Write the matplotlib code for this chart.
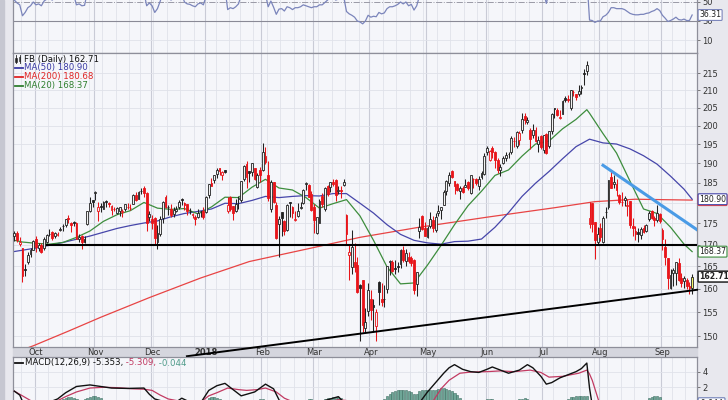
import numpy as np
import pandas as pd
import matplotlib
matplotlib.use('Agg')
import matplotlib.pyplot as plt
from matplotlib.patches import Rectangle
from matplotlib.lines import Line2D
from matplotlib.ticker import NullLocator, NullFormatter

# ---------------- data ----------------
start_date, end_date = '2017-09-20', '2018-09-19'
holidays = ['2017-11-23', '2017-12-25', '2018-01-01', '2018-01-15', '2018-02-19',
            '2018-03-30', '2018-05-28', '2018-07-04', '2018-09-03']
month_labels = ['Oct', 'Nov', 'Dec', '2018', 'Feb', 'Mar', 'Apr', 'May', 'Jun', 'Jul', 'Aug', 'Sep']

opens = [
    172.1, 172.7, 170.2, 169.2, 164.5, 165.9, 167.9, 168.8,
    171.4, 169.3, 169.8, 169.2, 170.6, 172.4, 173.0, 171.9, 172.2, 173.4, 174.5, 174.7, 176.3, 175.1, 175.4, 175.2, 171.4, 171.9, 171.4, 174.9, 178.0, 180.6,
    182.4, 178.0, 179.3, 178.6, 180.5, 180.0, 178.3, 178.4, 177.5, 178.1, 177.7, 178.4, 179.1, 178.8, 179.8, 181.9, 181.0, 183.0, 183.6, 182.4, 176.6,
    176.0, 176.3, 170.5, 172.5, 176.3, 181.5, 179.0, 178.6, 177.3, 178.1, 179.0, 181.0, 179.9, 179.8, 177.9, 177.1, 176.6, 176.5, 178.0, 178.0,
    177.7, 181.9, 184.9, 185.6, 187.2, 188.7, 186.9, 188.4, 178.1, 181.5, 179.3, 178.1, 180.9, 180.8, 186.1, 189.9, 187.9, 187.8, 188.8, 184.0, 188.4,
    188.2, 192.0, 186.9, 178.6, 185.2, 179.5, 174.8, 177.7, 175.6, 173.5, 180.1, 179.0, 175.8, 176.7, 178.7, 179.9, 184.6, 184.5, 182.3,
    179.0, 172.8, 175.2, 181.8, 178.5, 184.3, 183.9, 185.2, 185.6, 182.9, 183.2, 184.5, 177.0, 167.5, 164.8, 166.1, 165.4, 160.8, 161.9, 151.6, 155.2,
    157.8, 156.6, 152.0, 161.6, 157.7, 157.8, 160.0, 166.0, 166.1, 164.6, 165.1, 165.5, 168.7, 166.2, 167.2, 166.8, 166.4, 161.0, 173.2, 176.8, 173.8,
    171.8, 174.3, 175.9, 173.5, 177.4, 178.3, 179.5, 183.0, 184.9, 188.0, 185.5, 184.7, 183.0, 183.6, 184.0, 185.1, 182.5, 186.0, 185.9, 184.3, 186.5, 187.2,
    193.1, 191.0, 194.0, 193.0, 190.9, 188.3, 190.0, 191.4, 192.4, 193.1, 196.0, 194.7, 196.2, 198.9, 202.8, 201.2, 199.0, 197.5, 198.9, 195.2, 197.3,
    193.4, 197.7, 194.7, 198.5, 204.9, 204.5, 202.2, 203.4, 207.8, 207.5, 204.9, 209.6, 208.8, 208.9, 210.6, 215.1, 215.7, 174.9, 179.9, 175.3, 170.7,
    173.9, 170.7, 177.7, 179.0, 186.5, 184.8, 184.6, 182.0, 180.1, 180.7, 179.3, 180.4, 174.5, 173.1, 173.0, 172.2, 173.9, 173.3, 176.0, 178.1, 176.3, 175.9, 177.2,
    173.5, 169.5, 167.0, 160.3, 163.5, 163.5, 165.7, 162.5, 161.7, 162.0, 160.6, 160.1,
]
highs = [
    173.1, 173.2, 171.7, 169.3, 165.5, 168.3, 169.1, 171.0,
    171.9, 170.3, 170.3, 171.7, 172.4, 173.6, 173.2, 172.9, 173.0, 174.2, 174.8, 176.1, 177.0, 175.3, 175.6, 175.4, 172.4, 172.2, 171.9, 178.1, 181.4, 180.8,
    182.9, 180.3, 179.9, 180.5, 180.7, 180.3, 179.4, 179.1, 179.0, 179.0, 178.5, 179.8, 180.0, 179.7, 182.1, 182.6, 183.0, 183.7, 184.3, 182.6, 178.0,
    177.0, 176.6, 174.6, 176.8, 180.4, 182.0, 179.4, 179.6, 178.9, 179.3, 180.6, 181.3, 180.1, 179.8, 178.7, 177.5, 177.0, 178.4, 178.1, 178.9,
    181.6, 184.8, 186.2, 187.0, 188.9, 188.8, 187.9, 188.4, 181.5, 181.8, 179.3, 180.9, 181.8, 185.4, 189.6, 190.7, 188.0, 190.0, 188.9, 187.5, 189.0,
    195.3, 194.2, 190.6, 185.8, 185.3, 180.2, 176.7, 177.8, 175.9, 179.8, 180.1, 179.3, 177.9, 180.0, 180.2, 183.4, 185.3, 184.7, 182.9,
    179.8, 176.3, 181.0, 182.4, 184.0, 184.4, 185.2, 186.1, 186.1, 184.3, 184.2, 186.1, 177.2, 170.2, 173.4, 170.3, 167.1, 161.1, 162.0, 155.9, 161.4,
    159.8, 157.9, 155.6, 161.8, 161.4, 160.8, 165.2, 166.4, 166.4, 166.5, 166.1, 169.0, 169.6, 168.9, 168.4, 167.3, 166.7, 163.7, 176.3, 177.1, 175.3,
    174.3, 177.8, 176.7, 177.5, 179.4, 179.0, 183.2, 185.6, 187.7, 188.3, 185.5, 184.9, 184.2, 184.2, 186.1, 185.4, 186.9, 186.2, 186.3, 186.8, 188.0, 192.7,
    194.6, 193.4, 194.6, 193.2, 191.5, 189.8, 192.0, 193.0, 193.0, 197.3, 197.0, 198.6, 198.5, 203.6, 203.6, 202.4, 199.4, 200.4, 199.8, 197.3, 197.6,
    197.5, 198.1, 198.7, 203.6, 205.0, 204.9, 204.5, 207.1, 208.4, 208.7, 210.2, 210.0, 209.0, 211.5, 211.6, 216.2, 218.6, 180.1, 179.9, 175.3, 174.2,
    175.1, 176.8, 178.9, 185.8, 188.3, 186.9, 186.1, 182.1, 182.6, 181.8, 180.9, 180.5, 176.2, 174.4, 174.0, 174.2, 174.7, 174.8, 178.0, 178.2, 176.7, 179.5, 177.6,
    173.9, 171.2, 167.0, 164.5, 164.6, 166.0, 166.9, 163.5, 162.8, 162.4, 161.5, 163.4,
]
lows = [
    170.9, 170.6, 169.6, 161.6, 162.8, 165.6, 167.2, 168.8,
    168.2, 168.6, 168.0, 168.8, 170.4, 172.1, 171.0, 171.5, 171.9, 173.1, 173.3, 174.2, 175.2, 172.9, 174.3, 171.3, 170.6, 168.9, 170.3, 174.6, 177.8, 178.9,
    180.6, 175.5, 177.7, 178.5, 178.9, 179.1, 177.1, 177.9, 177.3, 176.7, 176.5, 178.1, 178.6, 178.2, 179.6, 180.4, 180.9, 182.3, 181.5, 173.3, 175.6,
    173.6, 170.2, 169.0, 171.9, 175.1, 178.7, 177.1, 176.6, 176.6, 177.7, 178.4, 179.4, 178.2, 177.1, 177.2, 176.2, 174.7, 176.3, 176.5, 176.0,
    177.6, 181.3, 184.1, 184.9, 186.3, 187.1, 185.6, 187.4, 177.4, 178.0, 175.8, 177.7, 178.6, 180.2, 185.5, 183.8, 185.2, 186.8, 185.6, 183.7, 185.3,
    187.9, 189.9, 180.5, 177.8, 180.0, 171.2, 167.2, 171.9, 172.2, 173.3, 176.6, 176.4, 175.5, 176.6, 178.4, 179.6, 183.2, 181.4, 178.1,
    172.7, 172.5, 175.1, 178.9, 178.1, 181.7, 182.7, 184.2, 180.4, 182.2, 181.2, 184.2, 170.1, 161.9, 163.3, 163.7, 159.0, 149.0, 150.8, 150.8, 154.1,
    153.3, 150.8, 149.0, 156.5, 156.2, 156.0, 159.0, 163.0, 163.7, 163.3, 163.7, 164.7, 166.1, 165.2, 165.7, 165.0, 158.9, 158.5, 171.6, 173.5, 171.9,
    171.5, 173.8, 173.0, 173.0, 176.8, 176.0, 179.5, 182.0, 184.2, 186.2, 182.3, 183.0, 181.0, 182.5, 183.9, 183.1, 182.2, 183.8, 184.4, 183.1, 185.9, 187.0,
    192.3, 190.5, 191.5, 188.7, 187.5, 186.8, 189.8, 190.7, 191.5, 192.4, 194.2, 194.0, 194.8, 198.2, 200.5, 200.6, 193.9, 196.7, 195.6, 192.9, 193.8,
    192.8, 192.5, 194.0, 197.7, 202.3, 202.7, 201.8, 203.2, 206.7, 206.6, 204.5, 208.3, 207.1, 208.5, 208.8, 211.6, 214.3, 173.8, 173.0, 166.6, 170.0,
    170.9, 170.3, 176.2, 178.4, 183.7, 183.8, 181.7, 179.6, 179.2, 179.2, 176.8, 174.0, 172.0, 171.1, 170.7, 171.4, 172.8, 172.9, 175.7, 176.1, 174.5, 175.4, 175.0,
    168.8, 165.3, 160.0, 160.0, 160.6, 160.9, 161.8, 160.4, 160.3, 160.0, 158.9, 158.9,
]
closes = [
    172.8, 171.1, 170.5, 162.9, 164.2, 167.7, 168.7, 170.9,
    169.5, 169.9, 168.4, 171.2, 172.2, 172.5, 171.6, 172.7, 172.6, 173.7, 174.5, 176.1, 176.0, 174.6, 175.0, 171.3, 171.8, 170.6, 170.6, 177.9, 179.9, 180.1,
    182.7, 178.9, 178.9, 180.2, 180.3, 179.6, 179.3, 178.5, 178.8, 179.0, 178.0, 179.6, 179.0, 178.7, 181.9, 180.8, 182.8, 183.0, 182.4, 175.1, 177.2,
    175.1, 171.5, 172.8, 176.1, 180.1, 179.0, 179.0, 177.0, 178.3, 178.4, 180.2, 180.8, 179.5, 177.9, 177.9, 177.2, 176.0, 177.6, 177.9, 176.5,
    181.4, 184.7, 184.3, 186.9, 188.3, 187.9, 187.8, 187.8, 179.4, 178.4, 177.6, 179.8, 181.3, 185.4, 189.4, 186.6, 187.5, 190.0, 186.0, 187.1, 186.9,
    193.1, 190.3, 181.3, 185.3, 180.2, 171.6, 176.1, 176.4, 173.2, 179.5, 180.0, 177.4, 176.0, 177.9, 179.0, 183.3, 184.9, 181.5, 178.3,
    175.9, 176.6, 180.4, 179.8, 183.7, 182.3, 185.2, 184.8, 181.9, 183.2, 182.9, 185.1, 172.6, 168.2, 169.4, 164.9, 159.4, 160.1, 152.2, 153.0, 159.8,
    155.4, 156.1, 155.1, 159.3, 157.2, 157.9, 165.0, 166.3, 163.9, 164.5, 164.8, 168.7, 166.4, 168.1, 166.3, 165.8, 159.7, 163.7, 174.2, 173.6, 172.0,
    173.9, 176.1, 174.0, 176.6, 178.0, 178.9, 182.7, 185.5, 187.0, 186.6, 184.3, 183.2, 183.8, 182.7, 184.5, 183.8, 186.9, 185.9, 184.9, 185.9, 187.5, 191.8,
    194.0, 193.3, 192.9, 191.0, 188.2, 189.1, 191.5, 192.3, 192.4, 196.8, 195.9, 198.3, 198.0, 202.0, 201.5, 201.7, 196.4, 199.0, 195.8, 196.2, 194.3,
    197.4, 192.7, 198.5, 203.2, 204.7, 203.0, 202.5, 206.9, 207.3, 207.2, 210.0, 209.4, 208.1, 209.9, 210.9, 214.7, 217.5, 176.3, 174.9, 171.1, 172.6,
    171.7, 176.4, 177.8, 185.7, 183.8, 185.2, 183.1, 180.3, 180.1, 181.1, 179.5, 174.7, 173.8, 172.5, 172.6, 173.6, 172.9, 174.7, 177.5, 176.3, 175.9, 177.6, 175.7,
    171.2, 167.2, 162.5, 163.0, 164.2, 165.9, 162.0, 161.4, 162.3, 160.6, 160.3, 162.71,
]

# moving averages, read every few sessions
ma20_idx = [0, 3, 8, 13, 18, 23, 28, 33, 38, 43, 48, 53, 58, 63, 68, 73, 78, 83, 88, 93, 98, 103, 108, 113,
            118, 123, 128, 133, 138, 143, 148, 153, 158, 163, 168, 173, 178, 183, 188, 193, 198, 203, 208,
            212, 213, 218, 223, 228, 233, 238, 243, 248, 251]
ma20 = [171.0, 170.6, 170.3, 170.1, 170.5, 171.7, 173.2, 175.5, 177.1, 178.1, 180.1, 178.7, 178.4, 178.6,
        177.3, 179.0, 181.4, 181.3, 183.9, 185.9, 183.7, 183.2, 181.3, 178.7, 179.8, 180.8, 176.8, 171.0,
        164.9, 161.1, 161.3, 165.3, 169.8, 174.7, 179.3, 182.9, 186.9, 188.3, 191.9, 195.1, 195.9, 199.2,
        201.8, 204.5, 203.5, 197.9, 192.7, 185.4, 178.5, 177.4, 174.1, 170.1, 168.37]
ma50_idx = [0, 8, 18, 28, 38, 43, 48, 53, 58, 63, 68, 73, 78, 83, 88, 93, 98, 103, 108, 113, 118, 123, 128,
            133, 138, 143, 148, 153, 158, 163, 168, 173, 178, 183, 188, 193, 198, 203, 208, 213, 218, 223,
            228, 233, 238, 243, 248, 251]
ma50 = [168.4, 169.2, 170.5, 172.0, 173.8, 174.5, 175.1, 175.6, 176.6, 177.4, 177.9, 178.5, 179.9, 179.8,
        180.6, 181.6, 181.3, 181.6, 181.8, 181.7, 182.3, 182.3, 179.9, 177.5, 174.7, 172.4, 171.0, 170.4,
        170.1, 170.7, 170.8, 171.3, 174.1, 177.6, 181.6, 184.9, 187.9, 191.2, 194.4, 196.4, 195.4, 195.1,
        193.8, 192.0, 189.8, 186.7, 183.4, 180.90]
ma200_idx = [0, 7, 20, 32, 50, 69, 87, 110, 128, 150, 175, 200, 215, 230, 251]
ma200 = [146.6, 148.0, 151.0, 153.9, 158.1, 162.4, 166.1, 169.2, 171.7, 174.1, 176.5, 178.8, 180.3, 180.9, 180.68]

# drawn trend lines (session index, price)
support_x, support_y = [12, 252.8], [169.8, 169.8]
rising_x, rising_y = [63.9, 252.8], [145.9, 159.8]
falling_x, falling_y = [218, 252.8], [189.5, 173.5]

rsi = [
    52, 49, 47, 35.5, 39, 44, 46, 50, 47, 48,
    46, 51, 53, 54, 52, 54, 53, 56, 58, 61,
    60, 56, 57, 47, 48, 46, 46.5, 60, 64, 64,
    67, 58, 58, 60, 60, 59, 58, 57, 57, 58,
    55, 58, 57, 56, 61, 59, 62, 62, 60, 46,
    49, 46, 39, 43, 51, 58, 56, 56, 52, 54,
    54, 57, 58, 50, 48, 47.5, 46, 45, 48, 49,
    47, 56, 61, 60, 63, 65, 64, 64, 64, 42,
    44, 43, 45, 48, 57, 62, 57, 58, 62, 55,
    57, 56, 63, 58, 45, 51, 44.5, 37, 42.5, 43,
    40.5, 45, 44, 42, 44, 44, 45, 47, 46, 45,
    44, 45, 45, 47, 47, 49.5, 52, 56, 55, 52,
    53, 53, 55, 40, 37.5, 36, 34, 30, 29, 27,
    30, 36, 34, 35, 34.5, 39, 37.5, 38.5, 43, 45,
    45, 46, 47.5, 50, 48, 50, 46, 47.5, 41.5, 46,
    56, 55, 53.5, 55, 57, 55, 57, 58, 59, 63,
    65.5, 67, 66, 62, 61, 61.5, 59.5, 61, 60, 64,
    62, 60.5, 62, 64, 69, 71, 70, 69, 66, 61,
    62, 64, 65, 65, 69, 67, 70, 69.5, 73, 72,
    72, 62, 64, 58.5, 59, 56, 60, 48.5, 60, 66,
    67.5, 65, 63, 67.5, 68, 68, 71, 70, 68, 70,
    71, 74, 76, 31, 30.5, 28.5, 30, 30, 34.5, 36,
    39, 44, 44, 43, 43, 43, 42, 40, 38, 37,
    36.5, 36.5, 37, 37, 38, 38.5, 40, 41, 43, 41,
    36, 33, 29.5, 30.5, 32, 34, 31.5, 31, 32, 30.5,
    30.5, 36.31,
]

macd_idx = [0, 2, 3, 5, 8, 11, 13, 16, 19, 23, 28, 32, 36, 42, 48, 50, 52, 56, 59, 62, 65, 69, 72, 75,
            78, 81, 84, 89, 93, 96, 99, 103, 108, 114, 118, 120, 123, 126, 129, 133, 138, 143, 148, 150,
            153, 156, 159, 161, 163, 166, 169, 172, 175, 177, 180, 183, 187, 190, 192, 195, 197, 199, 202,
            205, 208, 210, 212, 213, 214, 215, 217, 219, 221, 223, 226, 229, 232, 235, 238, 240, 242, 244,
            247, 249, 251]
macd = [1.5, 1.0, 0.2, -0.5, -0.6, -0.3, 0.1, 0.5, 1.3, 2.1, 2.3, 2.1, 1.9, 1.85, 1.9, 1.1, 0.5, 0.1,
        -0.1, 0.6, 0.1, 0.0, 1.6, 2.2, 2.5, 1.7, 0.9, 1.4, 2.4, 1.8, -0.3, -0.6, -0.1, 0.2, 0.6, 0.8,
        -0.3, -2.0, -4.0, -5.2, -4.6, -3.0, -1.8, 0.0, 1.4, 2.6, 3.8, 4.5, 4.9, 4.3, 4.0, 3.9, 4.3, 4.6,
        4.2, 3.8, 4.2, 4.9, 4.5, 3.4, 2.4, 2.6, 3.2, 3.6, 4.0, 4.4, 5.1, 1.9, -0.3, -2.5, -4.8, -5.3,
        -4.6, -4.0, -3.8, -4.2, -4.4, -3.5, -3.0, -3.3, -4.2, -4.8, -5.2, -5.4, -5.353]
signal_idx = [0, 3, 6, 9, 12, 15, 19, 23, 28, 33, 38, 44, 48, 51, 54, 57, 60, 65, 69, 72, 75, 79, 83, 86,
              90, 93, 97, 100, 104, 110, 116, 120, 123, 126, 129, 133, 138, 143, 148, 150, 153, 155, 158,
              161, 165, 169, 175, 180, 185, 191, 195, 198, 203, 206, 209, 212, 213, 214, 215, 216, 217,
              219, 221, 223, 226, 229, 232, 235, 238, 240, 242, 244, 247, 249, 251]
signal = [1.5, 0.9, 0.3, -0.1, -0.2, 0.1, 0.8, 1.4, 1.9, 2.0, 1.95, 1.8, 1.75, 1.6, 1.0, 0.5, 0.3, 0.2,
          0.1, 0.9, 1.3, 1.9, 1.7, 1.6, 1.7, 1.9, 1.4, 0.6, 0.0, -0.2, 0.1, 0.4, 0.3, -0.6, -2.0, -3.6,
          -4.4, -4.3, -3.2, -2.7, -1.3, 0.2, 1.8, 2.9, 3.8, 3.95, 4.0, 4.1, 4.0, 4.2, 3.9, 3.3, 3.4, 3.6,
          3.8, 4.2, 3.7, 2.9, 1.8, 0.7, -0.4, -2.2, -3.2, -3.7, -3.9, -4.0, -4.1, -4.0, -3.8, -3.6, -3.8,
          -4.2, -4.8, -5.1, -5.309]
hist = [
    0.0, -0.1, -0.3, -0.6, -0.8, -0.9, -0.9, -0.8, -0.6, -0.4,
    -0.3, -0.2, -0.1, 0.1, 0.2, 0.3, 0.3, 0.4, 0.5, 0.6,
    0.7, 0.7, 0.6, 0.5, 0.4, 0.4, 0.5, 0.6, 0.8, 0.9,
    0.9, 0.8, 0.6, 0.3, 0.2, 0.1, 0.0, -0.1, 0.0, 0.1,
    0.1, 0.2, 0.3, 0.2, 0.2, 0.2, 0.3, 0.3, 0.2, -0.3,
    -0.6, -0.9, -1.1, -1.0, -0.9, -0.7, -0.5, -0.4, -0.3, -0.2,
    0.0, 0.1, 0.2, 0.1, 0.0, -0.1, -0.1, -0.1, -0.1, -0.1,
    0.1, 0.4, 0.6, 0.7, 0.7, 0.6, 0.5, 0.4, 0.3, 0.1,
    -0.1, -0.2, -0.3, -0.5, -0.6, -0.4, -0.3, -0.2, -0.1, 0.0,
    0.2, 0.5, 0.5, 0.4, 0.2, 0.0, -0.3, -0.7, -1.1, -1.3,
    -1.2, -1.0, -0.8, -0.6, -0.4, -0.2, 0.0, 0.2, 0.4, 0.5,
    0.45, 0.4, 0.3, 0.3, 0.4, 0.5, 0.6, 0.65, 0.7, 0.7,
    0.7, 0.6, 0.4, -0.6, -1.4, -1.6, -1.8, -2.0, -2.1, -2.0,
    -1.8, -1.4, -1.2, -1.0, -0.6, -0.2, 0.1, 0.5, 0.9, 1.2,
    1.4, 1.55, 1.6, 1.7, 1.7, 1.6, 1.5, 1.4, 1.2, 1.2,
    1.5, 1.6, 1.6, 1.6, 1.7, 1.7, 1.7, 1.8, 1.85, 1.85,
    1.8, 1.7, 1.5, 1.3, 1.0, 0.6, 0.3, 0.1, 0.0, -0.1,
    -0.1, -0.1, 0.0, 0.2, 0.4, 0.5, 0.55, 0.5, 0.4, 0.2,
    0.1, 0.0, -0.1, -0.2, -0.1, 0.1, 0.3, 0.5, 0.55, 0.6,
    0.55, 0.4, 0.2, -0.2, -0.5, -0.7, -0.9, -1.0, -0.8, -0.6,
    -0.4, -0.2, 0.0, 0.2, 0.4, 0.55, 0.7, 0.8, 0.85, 0.85,
    0.9, 0.9, 0.9, -1.8, -3.2, -4.3, -4.6, -4.4, -3.6, -3.1,
    -2.4, -1.4, -0.8, -0.3, -0.1, 0.1, 0.1, -0.2, -0.3, -0.3,
    -0.3, -0.3, -0.2, 0.1, 0.4, 0.6, 0.8, 0.9, 0.9, 0.7,
    0.4, -0.2, -0.4, -0.5, -0.6, -0.6, -0.5, -0.4, -0.3, -0.2,
    -0.1, -0.044,
]

# ---------------- layout helpers (pixels of a 728x400 picture) ----------------
W, H = 728, 400
def fx(p):
    return p / W
def fy(p):
    return 1 - p / H

dates = pd.bdate_range(start_date, end_date)
dates = dates[~dates.isin(pd.to_datetime(holidays))]
n = len(dates)
x = np.arange(n)
month_pos = [i for i in range(1, n) if dates[i].month != dates[i - 1].month]
week_pos = [i for i in range(1, n) if dates[i].weekday() < dates[i - 1].weekday()]
XMIN, XMAX = -0.5, 252.8

panel_bg = '#f5f6fa'
edge = '#8e8f9a'
fig = plt.figure(figsize=(7.28, 4.0), dpi=100, facecolor='#e8e8ee')
fig.add_artist(Rectangle((0, 0), fx(4), 1, transform=fig.transFigure, color='#c6c7d1', zorder=-2))
fig.add_artist(Rectangle((fx(13), fy(357)), fx(684), (357 - 346.5) / H, transform=fig.transFigure,
                         color='#d5d6de', zorder=-1))

ax_rsi = fig.add_axes([fx(13), fy(53), fx(684), 99 / H])
ax_main = fig.add_axes([fx(13), fy(346.5), fx(684), 293.5 / H])
ax_macd = fig.add_axes([fx(13), fy(440), fx(684), 83 / H])

for ax in (ax_rsi, ax_main, ax_macd):
    ax.set_facecolor(panel_bg)
    ax.set_xlim(XMIN, XMAX)
    ax.set_xticks([])
    for s in ax.spines.values():
        s.set_color(edge)
        s.set_linewidth(0.9)
    ax.yaxis.tick_right()
    ax.tick_params(axis='y', which='both', length=2.5, width=0.6, color='#666',
                   labelsize=6, labelcolor='#333', pad=1.5)
    for w in week_pos:
        ax.axvline(w - 0.5, color='#e0e2ea', lw=0.6, zorder=0)
    for m in month_pos:
        ax.axvline(m - 0.5, color='#c9cbd6', lw=0.8, zorder=0)

tag_box = dict(boxstyle='round,pad=0.12', fc='white', lw=0.8)

# ---- RSI ----
ax_rsi.set_ylim(-3.68, 100.5)
ax_rsi.set_yticks([10, 30, 50, 70, 90])
for lvl in (10, 90):
    ax_rsi.axhline(lvl, color='#e0e2ea', lw=0.6, zorder=0)
ax_rsi.axhline(30, color='#8a8a96', lw=0.8, zorder=1)
ax_rsi.axhline(70, color='#8a8a96', lw=0.8, zorder=1)
ax_rsi.axhline(50, color='#9a9aa6', lw=0.7, ls='-.', zorder=1)
ax_rsi.plot(x, rsi, color='#7b85bb', lw=0.9, zorder=3)
ax_rsi.text(1.003, rsi[-1], f'{rsi[-1]:.2f}', transform=ax_rsi.get_yaxis_transform(), fontsize=5.6,
            va='center', ha='left', color='#222', clip_on=False, zorder=6,
            bbox=dict(tag_box, ec='#7b85bb'))

# ---- price panel ----
ax_main.set_yscale('log')
ax_main.set_ylim(147.86, 221.0)
price_ticks = list(range(150, 220, 5))
ax_main.set_yticks(price_ticks)
ax_main.set_yticklabels(['' if t == 180 else str(t) for t in price_ticks])
ax_main.yaxis.set_minor_locator(NullLocator())
ax_main.yaxis.set_minor_formatter(NullFormatter())
for t in price_ticks:
    ax_main.axhline(t, color='#dfe1e9', lw=0.6, zorder=0)

o, h, l, c = map(np.array, (opens, highs, lows, closes))
prev = np.concatenate([[c[0]], c[:-1]])
col = np.where(c >= prev, '#222222', '#e8151a')
face = np.where(c > o, '#f2f2f2', col).astype(object)
face[-1] = '#f4f46a'
ax_main.plot(ma200_idx, ma200, color='#e84444', lw=0.9, zorder=2)
ax_main.plot(ma50_idx, ma50, color='#4646aa', lw=0.9, zorder=2)
ax_main.plot(ma20_idx, ma20, color='#3d8d3d', lw=0.9, zorder=2)
ax_main.vlines(x, l, h, colors=col, lw=0.75, zorder=3)
ax_main.bar(x, np.abs(c - o), bottom=np.minimum(o, c), width=0.68, color=list(face),
            edgecolor=list(col), linewidth=0.6, zorder=4)

ax_main.plot(support_x, support_y, color='black', lw=1.5, zorder=5)
ax_main.plot(rising_x, rising_y, color='black', lw=1.4, zorder=5, clip_on=False)
ax_main.plot(falling_x, falling_y, color='#4a9be6', lw=2.2, zorder=5)

# month labels in the strip
for m, lab in zip(month_pos, month_labels):
    ax_main.text(m, -0.019, lab, transform=ax_main.get_xaxis_transform(), ha='center', va='center',
                 fontsize=6, color='#333', fontweight='bold' if lab == '2018' else 'normal',
                 clip_on=False)

# value tags on the right edge
tags = [(ma200[-1], '180.68', '#e84444', 'normal'),
        (ma50[-1], '180.90', '#4646aa', 'normal'),
        (ma20[-1], '168.37', '#3d8d3d', 'normal'),
        (closes[-1], '162.71', '#222222', 'bold')]
for val, txt, ec, fw in tags:
    ax_main.text(1.003, val, txt, transform=ax_main.get_yaxis_transform(), fontsize=5.6, va='center',
                 ha='left', color='#222', fontweight=fw, clip_on=False, zorder=6,
                 bbox=dict(tag_box, ec=ec, lw=1.1 if fw == 'bold' else 0.8))

# legend block
fig.add_artist(Line2D([fx(16), fx(16)], [fy(55), fy(63)], color='#222', lw=0.6))
fig.add_artist(Rectangle((fx(15.2), fy(61.5)), fx(1.8), 4 / H, transform=fig.transFigure,
                         fc='#222', ec='#222', lw=0.4))
fig.add_artist(Line2D([fx(19.5), fx(19.5)], [fy(54.5), fy(62.5)], color='#222', lw=0.6))
fig.add_artist(Rectangle((fx(18.7), fy(61)), fx(1.8), 4.5 / H, transform=fig.transFigure,
                         fc='white', ec='#222', lw=0.5))
fig.text(fx(24), fy(59), 'FB (Daily) 162.71', fontsize=6.2, va='center', ha='left', color='#111')
legend_rows = [('MA(50) 180.90', '#3a3aa4', 67.5),
               ('MA(200) 180.68', '#e02424', 76.5),
               ('MA(20) 168.37', '#2f7f2f', 85.5)]
for txt, colr, yy in legend_rows:
    fig.add_artist(Line2D([fx(15), fx(22.5)], [fy(yy), fy(yy)], color=colr, lw=1.3))
    fig.text(fx(23.5), fy(yy), txt, fontsize=6.2, va='center', ha='left', color=colr)

# ---- MACD ----
ax_macd.set_ylim(-4.76, 5.88)
ax_macd.set_yticks([2, 4])
for lvl in (2, 4):
    ax_macd.axhline(lvl, color='#e0e2ea', lw=0.6, zorder=0)
ax_macd.axhline(0, color='#b0b2bc', lw=0.6, zorder=0)
ax_macd.bar(x, hist, width=0.78, color='#6ea697', edgecolor='#3f6e62', linewidth=0.4, zorder=2)
ax_macd.plot(signal_idx, signal, color='#c23a62', lw=0.9, zorder=3)
ax_macd.plot(macd_idx, macd, color='#111111', lw=1.0, zorder=4)
ax_macd.text(1.003, hist[-1], '-0.044', transform=ax_macd.get_yaxis_transform(), fontsize=5.6,
             va='center', ha='left', color='#222', clip_on=False, zorder=6,
             bbox=dict(tag_box, ec='#6f7fb8'))

fig.add_artist(Line2D([fx(15), fx(22.5)], [fy(363), fy(363)], color='#111', lw=1.3))
t1 = fig.text(fx(25), fy(363), 'MACD(12,26,9) -5.353,', fontsize=6.2, va='center', ha='left',
              color='#111')
t2 = ax_macd.annotate(' -5.309,', xy=(1, 0), xycoords=t1, va='bottom', ha='left', fontsize=6.2,
                      color='#c23a62', annotation_clip=False)
ax_macd.annotate(' -0.044', xy=(1, 0), xycoords=t2, va='bottom', ha='left', fontsize=6.2,
                 color='#4f9b8a', annotation_clip=False)

fig.savefig('out.png', dpi=100, facecolor=fig.get_facecolor())
